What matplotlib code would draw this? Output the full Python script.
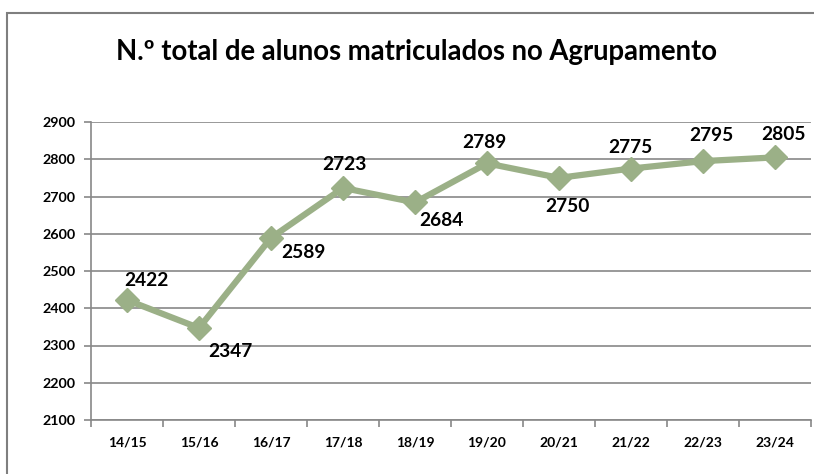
import matplotlib.pyplot as plt
from matplotlib.patches import Rectangle

# school years and number of enrolled students
anos = ["14/15", "15/16", "16/17", "17/18", "18/19", "19/20", "20/21", "21/22", "22/23", "23/24"]
alunos = [2422, 2347, 2589, 2723, 2684, 2789, 2750, 2775, 2795, 2805]

# label offsets (pixels) relative to each point
offsets = [(19, 20), (31, -24), (32, -15), (1, 23), (26, -18), (-3, 21), (8, -29), (-1, 21), (8, 26), (9, 23)]

plt.rcParams['font.family'] = ['Lato', 'DejaVu Sans']
green = "#9bb087"
grid = "#888888"

fig = plt.figure(figsize=(8.14, 4.74), dpi=100)
fig.patches.append(Rectangle((7 / 814, -0.01), 1.05, 1 - 13 / 474 + 0.01, transform=fig.transFigure,
                             fill=False, edgecolor="#7f7f7f", linewidth=1.5))

ax = fig.add_axes([91 / 814, 1 - 420 / 474, 720 / 814, 298 / 474])
x = list(range(len(anos)))
ax.plot(x, alunos, color=green, linewidth=4.5, marker="D", markersize=12, zorder=3)

ax.set_xlim(-0.5, len(anos) - 0.5)
ax.set_ylim(2100, 2900)
ax.set_yticks(range(2100, 3000, 100))
ax.yaxis.grid(True, color=grid, linewidth=1.2)
ax.set_axisbelow(True)
ax.set_xticks(x)
ax.set_xticklabels(anos)
ax.set_xticks([i - 0.5 for i in range(len(anos) + 1)], minor=True)
ax.tick_params(axis="x", which="major", length=0, pad=12, labelsize=10)
ax.tick_params(axis="x", which="minor", length=5, color=grid, width=1.2)
ax.tick_params(axis="y", length=5, color=grid, width=1.2, pad=6, labelsize=10.3)
for lab in ax.get_xticklabels() + ax.get_yticklabels():
    lab.set_fontweight("bold")
for s in ["top", "right"]:
    ax.spines[s].set_visible(False)
for s in ["left", "bottom"]:
    ax.spines[s].set_color(grid)
    ax.spines[s].set_linewidth(1.2)

for xi, v, (dx, dy) in zip(x, alunos, offsets):
    ax.annotate(str(v), (xi, v), xytext=(dx, dy), textcoords="offset pixels",
                ha="center", va="center", fontsize=13.8, fontweight="bold")

fig.text(416 / 814, 1 - 52 / 474, "N.º total de alunos matriculados no Agrupamento",
         ha="center", va="center", fontsize=19.8, fontweight="bold")

fig.savefig("out.png", dpi=100)
